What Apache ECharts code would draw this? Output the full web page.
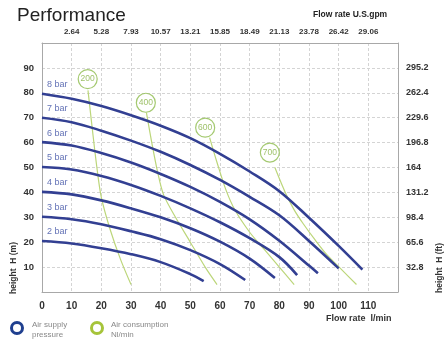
<!DOCTYPE html>
<html>
<head>
<meta charset="utf-8">
<script src="https://cdn.jsdelivr.net/npm/echarts@6/dist/echarts.min.js"></script>
<style>
html,body{margin:0;padding:0;background:#fff;}
#c{width:447px;height:343px;}
</style>
</head>
<body>
<div id="c"></div>
<script>
// ---- Data ----
var flowTicks = [0,10,20,30,40,50,60,70,80,90,100,110];
var gpmLabels = ['', '2.64','5.28','7.93','10.57','13.21','15.85','18.49','21.13','23.78','26.42','29.06'];
var heightTicks = [10,20,30,40,50,60,70,80,90];
var ftLabels = ['32.8','65.6','98.4','131.2','164','196.8','229.6','262.4','295.2'];

var pressureNames = ['2 bar','3 bar','4 bar','5 bar','6 bar','7 bar','8 bar'];
var bar2 = [[0,20.5],[10,19.5],[20,17.6],[30,15.2],[40,12],[50,7.2],[54.5,4.4]];
var bar3 = [[0,30.2],[10,29.2],[20,27.2],[30,24.4],[40,21.2],[50,16.8],[60,11.2],[68.5,4.8]];
var bar4 = [[0,40.2],[10,39.2],[20,36.8],[30,33.6],[40,30],[50,25.6],[60,20.2],[70,13.4],[78.5,5.6]];
var bar5 = [[0,50.2],[10,49.2],[20,46.6],[30,43],[40,38.6],[50,33.6],[60,28],[70,21.6],[80,14],[86,6.8]];
var bar6 = [[0,60.2],[10,58.8],[20,55.8],[30,52],[40,47.4],[50,42.2],[60,36.2],[70,29.2],[80,20.6],[90,10.6],[93,7.5]];
var bar7 = [[0,70],[10,68.2],[20,64.8],[30,60.8],[40,56.3],[50,51],[60,45],[70,38.2],[80,30.8],[90,20.5],[100,9.5]];
var bar8 = [[0,79.6],[10,77.6],[20,74.7],[30,71],[40,66.8],[50,61.8],[60,55.5],[70,48.4],[80,40.5],[90,29.8],[100,18.5],[108,9]];
var pressureSeries = [bar2,bar3,bar4,bar5,bar6,bar7,bar8];

var airNames = ['200','400','600','700'];
var air200 = [[15.5,81],[17,65],[18.5,50],[20,38],[23,25],[26.5,13],[30,3]];
var air400 = [[35.2,72],[37,60],[39,48],[41,39],[45,30],[50,20],[55,10],[59,3]];
var air600 = [[56.5,62],[59,52],[62,41],[65,33],[70,24],[75,17],[80,10],[85,3]];
var air700 = [[78.5,50],[82,40],[85,33],[88,27.5],[92,21],[96,15],[101,9],[106,3]];
var airSeries = [air200,air400,air600,air700];
var airLabelPos = [[15.4,85.5],[35,76],[55,66],[76.8,56]];

// ---- Chart ----
var FONT = '"Liberation Sans", Arial, sans-serif';
var BLUE = '#323f92';
var GREEN_LINE = '#bcd67a';
var GREEN = '#8dbb4c';

var series = [];
airSeries.forEach(function(d, i){
  series.push({
    type:'line', data:d, smooth:0.3, showSymbol:false, silent:true,
    lineStyle:{color:GREEN_LINE, width:1.2}, z:2
  });
});
pressureSeries.forEach(function(d, i){
  series.push({
    type:'line', name:pressureNames[i], data:d, smooth:0.35, showSymbol:false, silent:true,
    lineStyle:{color:BLUE, width:2.6}, z:3
  });
});
// pressure labels at curve starts
series.push({
  type:'scatter', symbolSize:0, silent:true, z:4,
  data: pressureSeries.map(function(d,i){ return {value:d[0], name:pressureNames[i]}; }),
  label:{show:true, position:'right', offset:[0,-9], formatter:function(p){return p.name;},
         color:'#3b4da3', fontSize:9, fontFamily:FONT}
});
// air consumption circles
series.push({
  type:'scatter', symbol:'circle', symbolSize:19, silent:true, z:5,
  itemStyle:{color:'#fff', borderColor:GREEN, borderWidth:1.2},
  data: airLabelPos.map(function(p,i){ return {value:p, name:airNames[i]}; }),
  label:{show:true, position:'inside', formatter:function(p){return p.name;},
         color:'#86b244', fontSize:8.5, fontFamily:FONT}
});

var splitLine = {show:true, lineStyle:{color:'#d4d4d4', type:[3,2], width:1}};

var option = {
  animation:false,
  backgroundColor:'#fff',
  grid:{left:42, right:49, top:43, bottom:51},
  title:{text:'Performance', left:12, top:1,
    textStyle:{fontSize:19, fontWeight:'normal', color:'#222', fontFamily:FONT}},
  xAxis:[{
    type:'value', position:'bottom', min:0, max:120, interval:10,
    axisLine:{show:true, onZero:false, lineStyle:{color:'#a8a8a8'}}, axisTick:{show:false},
    splitLine:splitLine,
    axisLabel:{margin:9, fontSize:10, fontWeight:'bold', color:'#333', fontFamily:FONT,
      formatter:function(v){ return flowTicks.indexOf(v) >= 0 ? String(v) : ''; }}
  },{
    type:'value', position:'top', min:0, max:120, interval:10,
    axisLine:{show:true, onZero:false, lineStyle:{color:'#a8a8a8'}}, axisTick:{show:false},
    splitLine:{show:false},
    axisLabel:{margin:7, fontSize:8, fontWeight:'bold', color:'#333', fontFamily:FONT,
      formatter:function(v){ var i = flowTicks.indexOf(v); return i > 0 ? gpmLabels[i] : ''; }}
  }],
  yAxis:[{
    type:'value', position:'left', min:0, max:100, interval:10,
    axisLine:{show:true, onZero:false, lineStyle:{color:'#a8a8a8'}}, axisTick:{show:false},
    splitLine:splitLine,
    axisLabel:{margin:8, fontSize:9.5, fontWeight:'bold', color:'#333', fontFamily:FONT,
      formatter:function(v){ return heightTicks.indexOf(v) >= 0 ? String(v) : ''; }}
  },{
    type:'value', position:'right', min:0, max:100, interval:10,
    axisLine:{show:true, onZero:false, lineStyle:{color:'#a8a8a8'}}, axisTick:{show:false},
    splitLine:{show:false},
    axisLabel:{margin:8, fontSize:9, fontWeight:'bold', color:'#333', fontFamily:FONT,
      formatter:function(v){ var i = heightTicks.indexOf(v); return i >= 0 ? ftLabels[i] : ''; }}
  }],
  series:series,
  graphic:[
    {type:'text', left:313, top:10, style:{text:'Flow rate U.S.gpm', fill:'#222', font:'bold 8.5px '+FONT}},
    {type:'text', left:326, top:314, style:{text:'Flow rate  l/min', fill:'#333', font:'bold 9px '+FONT}},
    {type:'text', x:14, y:268, rotation:Math.PI/2, style:{text:'height  H (m)', fill:'#333', font:'bold 8.5px '+FONT, align:'center', verticalAlign:'middle'}},
    {type:'text', x:440, y:268, rotation:Math.PI/2, style:{text:'height  H (ft)', fill:'#333', font:'bold 8.5px '+FONT, align:'center', verticalAlign:'middle'}},
    {type:'circle', shape:{cx:17, cy:328, r:5.5}, style:{fill:'none', stroke:'#1f3f8f', lineWidth:3}},
    {type:'text', left:32, top:320, style:{text:'Air supply\npressure', fill:'#888', font:'8px '+FONT, lineHeight:10}},
    {type:'circle', shape:{cx:97, cy:328, r:5.5}, style:{fill:'none', stroke:'#a6c43a', lineWidth:3}},
    {type:'text', left:111, top:320, style:{text:'Air consumption\nNl/min', fill:'#888', font:'8px '+FONT, lineHeight:10}}
  ]
};

var chart = echarts.init(document.getElementById('c'), null, {renderer:'canvas'});
chart.setOption(option);
</script>
</body>
</html>
